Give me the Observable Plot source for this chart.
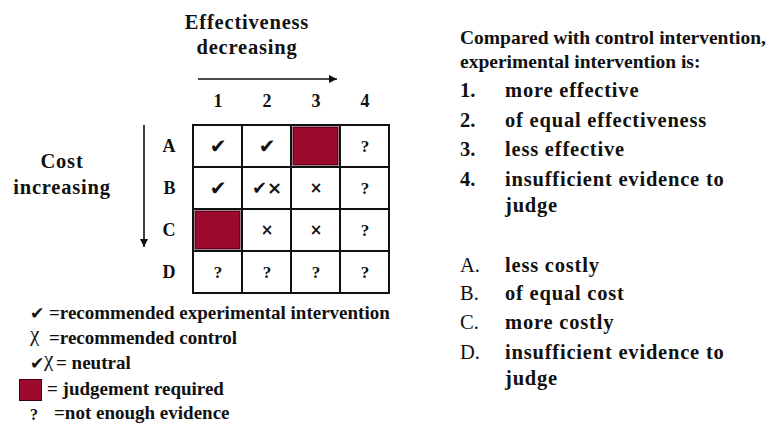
<!DOCTYPE html>
<html>
<head>
<meta charset="utf-8">
<script src="https://cdn.jsdelivr.net/npm/d3@7"></script>
<script src="https://cdn.jsdelivr.net/npm/@observablehq/plot@0.6"></script>
<style>
  html, body { margin: 0; padding: 0; background: #fff; }
  #wrap { position: relative; width: 772px; height: 423px; overflow: hidden; font-family: "Liberation Serif", "Times New Roman", serif; font-weight: bold; color: #111; }
  #wrap svg { position: absolute; left: 0; top: 0; }
  .t { position: absolute; white-space: nowrap; line-height: 1; }
</style>
</head>
<body>
<div id="wrap"></div>
<script>
// ---- data ----
const effectiveness = ["1", "2", "3", "4"];
const cost = ["A", "B", "C", "D"];
// verdict per cell: row = cost (A..D), column = effectiveness (1..4)
const verdicts = [
  ["check", "check", "judge", "unknown"],
  ["check", "neutral", "cross", "unknown"],
  ["judge", "cross", "cross", "unknown"],
  ["unknown", "unknown", "unknown", "unknown"]
];
const symbolText = { check: "✔", cross: "×", neutral: "✔×", unknown: "?", judge: "" };
const effectivenessMeaning = ["more effective", "of equal effectiveness", "less effective", "insufficient evidence to\njudge"];
const costMeaning = ["less costly", "of equal cost", "more costly", "insufficient evidence to\njudge"];
const legendItems = [
  ["✔", "=recommended experimental intervention"],
  ["χ", "=recommended control"],
  ["✔χ", "= neutral"],
  ["■", "= judgement required"],
  ["?", "=not enough evidence"]
];
const RED = "#9c0a2e";

const cells = [];
cost.forEach((c, i) => effectiveness.forEach((e, j) => cells.push({ cost: c, eff: e, v: verdicts[i][j] })));

const plot = Plot.plot({
  width: 772, height: 423,
  marginLeft: 192, marginRight: 383, marginTop: 125, marginBottom: 130,
  style: { fontFamily: "Liberation Serif, serif", background: "transparent", overflow: "visible" },
  x: { type: "band", domain: effectiveness, padding: 0, axis: null },
  y: { type: "band", domain: cost, padding: 0, axis: null },
  marks: [
    Plot.axisX({ anchor: "top", tickSize: 0, tickPadding: 19, fontSize: 18, fontWeight: "bold", fill: "#111", label: null }),
    Plot.axisY({ anchor: "left", tickSize: 0, tickPadding: 17, fontSize: 18, fontWeight: "bold", fill: "#111", label: null }),
    Plot.cell(cells, { x: "eff", y: "cost", fill: "white", stroke: "#111", strokeWidth: 2, inset: 0 }),
    Plot.cell(cells.filter(d => d.v === "judge"), { x: "eff", y: "cost", fill: RED, stroke: "#3a0010", strokeWidth: 1, inset: 2 }),
    Plot.text(cells.filter(d => d.v === "check"), { x: "eff", y: "cost", text: d => symbolText[d.v], fontSize: 20, fontFamily: "DejaVu Sans", fill: "#111" }),
    Plot.text(cells.filter(d => d.v === "neutral"), { x: "eff", y: "cost", text: d => symbolText[d.v], fontSize: 18, fontFamily: "DejaVu Sans", fill: "#111" }),
    Plot.text(cells.filter(d => d.v === "cross"), { x: "eff", y: "cost", text: d => symbolText[d.v], fontSize: 15, fontWeight: "bold", fontFamily: "DejaVu Sans", fill: "#111" }),
    Plot.text(cells.filter(d => d.v === "unknown"), { x: "eff", y: "cost", text: d => symbolText[d.v], fontSize: 17, fontWeight: "bold", fill: "#111" })
  ]
});

// arrows drawn relative to the plot's scales
const sx = plot.scale("x"), sy = plot.scale("y");
const bw = sx.bandwidth, bh = sy.bandwidth;
const svg = d3.select(plot);
const defs = svg.append("defs");
defs.append("marker").attr("id", "ah").attr("viewBox", "0 0 10 10").attr("refX", 10).attr("refY", 5)
  .attr("markerWidth", 10).attr("markerHeight", 8).attr("markerUnits", "userSpaceOnUse").attr("orient", "auto")
  .append("path").attr("d", "M0,0L10,5L0,10Z").attr("fill", "#111");
const x0 = sx.apply("1") + 5, x1 = sx.apply("3") + bw - 3;
const ay = sy.apply("A") - 46;
svg.append("line").attr("x1", x0).attr("x2", x1).attr("y1", ay).attr("y2", ay)
  .attr("stroke", "#111").attr("stroke-width", 1.6).attr("marker-end", "url(#ah)");
const vx = sx.apply("1") - 49;
svg.append("line").attr("x1", vx).attr("x2", vx).attr("y1", sy.apply("A")).attr("y2", sy.apply("C") + bh - 4)
  .attr("stroke", "#111").attr("stroke-width", 1.6).attr("marker-end", "url(#ah)");

const wrap = document.getElementById("wrap");
wrap.appendChild(plot);

function label(text, x, yc, size, opts = {}) {
  const d = document.createElement("div");
  d.className = "t";
  d.textContent = text;
  d.style.fontSize = size + "px";
  d.style.top = (yc - size / 2) + "px";
  d.style.left = x + "px";
  if (opts.center) d.style.transform = "translateX(-50%)";
  if (opts.family) d.style.fontFamily = opts.family;
  if (opts.ls) d.style.letterSpacing = opts.ls + "px";
  if (opts.weight) d.style.fontWeight = opts.weight;
  wrap.appendChild(d);
  return d;
}

// axis titles
label("Effectiveness", 247, 22, 20.5, { center: true, ls: 0.8 });
label("decreasing", 247, 47, 20.5, { center: true, ls: 0.8 });
label("Cost", 62, 161, 20.5, { center: true, ls: 0.8 });
label("increasing", 62, 187, 20.5, { center: true, ls: 0.8 });

// legend
const LS = 19;
const legendY = [312, 337, 362, 388, 412];
legendItems.forEach(([sym, txt], i) => {
  const y = legendY[i];
  if (sym === "■") {
    const sq = document.createElement("div");
    sq.style.cssText = `position:absolute;left:19px;top:${y - 9}px;width:23px;height:22px;background:${RED};border:1px solid #3a0010;box-sizing:border-box;`;
    wrap.appendChild(sq);
    label(txt, 47, y, LS);
  } else if (sym === "✔") {
    label(sym, 30, y + 1, 17, { family: "DejaVu Sans" });
    label(txt, 49, y, LS);
  } else if (sym === "χ") {
    label(sym, 30, y - 3, 21, { weight: "normal" });
    label(txt, 49, y, LS);
  } else if (sym === "✔χ") {
    label("✔", 30, y + 1, 17, { family: "DejaVu Sans" });
    label("χ", 44, y - 3, 21, { weight: "normal" });
    label(txt, 56, y, LS);
  } else {
    label(sym, 30, y + 3, 16);
    label(txt, 54, y, LS);
  }
});

// right side explanatory text
label("Compared with control intervention,", 460, 38, 19.5);
label("experimental intervention is:", 460, 62, 19.5);
const IS = 20.5, ILS = 0.8;
const effY = [[90], [120], [149], [179, 205]];
effectivenessMeaning.forEach((t, i) => {
  label((i + 1) + ".", 460, effY[i][0], IS);
  t.split("\n").forEach((line, k) => label(line, 505, effY[i][k], IS, { ls: ILS }));
});
const costY = [[265], [293], [322], [352, 378]];
costMeaning.forEach((t, i) => {
  label(cost[i] + ".", 460, costY[i][0], IS, { weight: "normal" });
  t.split("\n").forEach((line, k) => label(line, 505, costY[i][k], IS, { ls: ILS }));
});
</script>
</body>
</html>
